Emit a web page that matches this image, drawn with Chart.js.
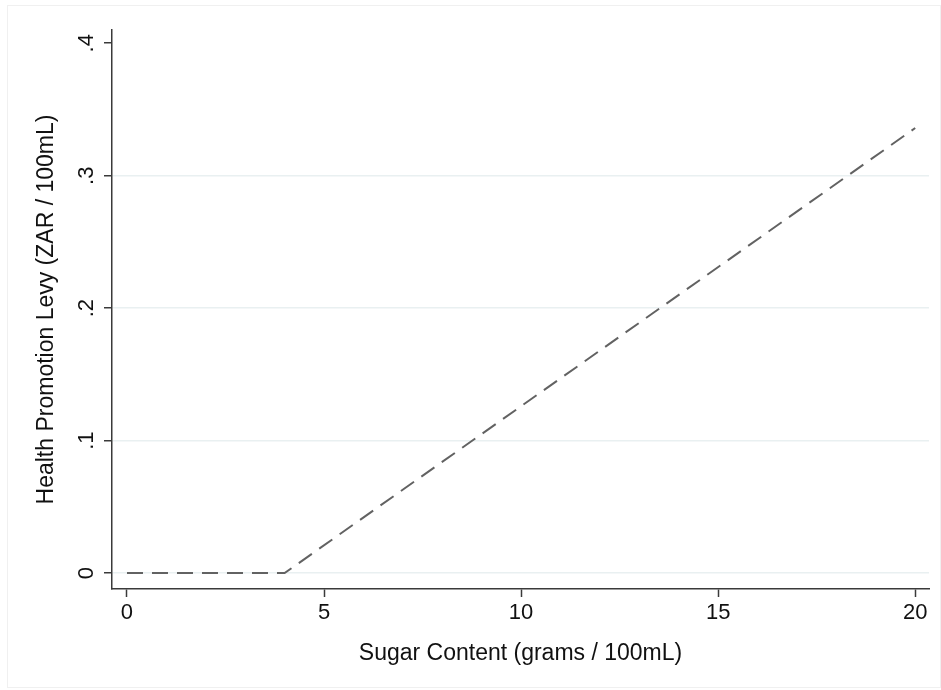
<!DOCTYPE html>
<html>
<head>
<meta charset="utf-8">
<script src="https://cdn.jsdelivr.net/npm/chart.js@4"></script>
<style>
  html, body { margin: 0; padding: 0; background: #fff; }
  #wrap { position: relative; width: 941px; height: 690px; }
</style>
</head>
<body>
<div id="wrap"><canvas id="myChart" width="941" height="690"></canvas></div>
<script>
// levy schedule: nothing up to 4 g, then linear
const sugar = [0, 4, 20];
const levy = [0, 0, 0.336];

const xTicks = [0, 5, 10, 15, 20];
const yTicks = [0, 0.1, 0.2, 0.3, 0.4];
const yTickLabels = ['0', '.1', '.2', '.3', '.4'];
const yGridValues = [0, 0.1, 0.2, 0.3];

const FONT = 'Liberation Sans, Arial, Helvetica, sans-serif';
const AXIS_COLOR = '#3a3a3a';
const GRID_COLOR = '#e9f0f1';
const LINE_COLOR = '#626262';

const frame = {
    id: 'frame',
    beforeDraw(chart) {
        const c = chart.ctx;
        c.save();
        c.fillStyle = '#fff';
        c.fillRect(0, 0, chart.width, chart.height);
        c.strokeStyle = '#f0f0f0';
        c.lineWidth = 1;
        c.strokeRect(7.5, 5.5, chart.width - 8, chart.height - 8);
        c.restore();
    }
};

// Stata-style rotated y tick labels
const rotatedYLabels = {
    id: 'rotatedYLabels',
    afterDraw(chart) {
        const y = chart.scales.y;
        const c = chart.ctx;
        c.save();
        c.fillStyle = '#111';
        c.font = '22px ' + FONT;
        c.textAlign = 'center';
        c.textBaseline = 'middle';
        yTicks.forEach((v, i) => {
            c.save();
            c.translate(87, y.getPixelForValue(v));
            c.rotate(-Math.PI / 2);
            c.fillText(yTickLabels[i], 0, 0);
            c.restore();
        });
        c.restore();
    }
};

function drawChart() {
    const ctx = document.getElementById('myChart').getContext('2d');
    new Chart(ctx, {
        type: 'scatter',
        data: {
            datasets: [{
                data: sugar.map((s, i) => ({ x: s, y: levy[i] })),
                showLine: true,
                borderColor: LINE_COLOR,
                borderWidth: 2,
                borderDash: [16, 9],
                pointRadius: 0,
                fill: false
            }]
        },
        options: {
            responsive: false,
            animation: false,
            layout: { padding: { left: 0, top: 30, right: 12, bottom: 0 } },
            plugins: {
                legend: { display: false },
                tooltip: { enabled: false }
            },
            scales: {
                x: {
                    type: 'linear',
                    min: -0.38,
                    max: 20.35,
                    afterBuildTicks: s => { s.ticks = xTicks.map(v => ({ value: v })); },
                    afterFit: s => { s.height = 101; },
                    grid: {
                        drawOnChartArea: false,
                        drawTicks: true,
                        tickLength: 8,
                        tickColor: AXIS_COLOR,
                        tickWidth: 1.5
                    },
                    border: { display: true, color: AXIS_COLOR, width: 1.5 },
                    ticks: {
                        color: '#111',
                        font: { family: FONT, size: 22 },
                        padding: 3,
                        maxRotation: 0
                    },
                    title: {
                        display: true,
                        text: 'Sugar Content (grams / 100mL)',
                        color: '#111',
                        font: { family: FONT, size: 23 },
                        padding: { top: 0, bottom: 23 }
                    }
                },
                y: {
                    min: -0.012,
                    max: 0.41,
                    afterBuildTicks: s => { s.ticks = yTicks.map(v => ({ value: v })); },
                    afterFit: s => { s.width = 112; },
                    grid: {
                        drawOnChartArea: true,
                        color: c => (c.tick && yGridValues.includes(c.tick.value)) ? GRID_COLOR : 'rgba(0,0,0,0)',
                        lineWidth: 1.5,
                        drawTicks: true,
                        tickLength: 8,
                        tickColor: AXIS_COLOR,
                        tickWidth: 1.5
                    },
                    border: { display: true, color: AXIS_COLOR, width: 1.5 },
                    ticks: { display: false },
                    title: {
                        display: true,
                        text: 'Health Promotion Levy (ZAR / 100mL)',
                        color: '#111',
                        font: { family: FONT, size: 23 },
                        padding: { top: 33, bottom: 0 }
                    }
                }
            }
        },
        plugins: [frame, rotatedYLabels]
    });
}

drawChart();
</script>
</body>
</html>
